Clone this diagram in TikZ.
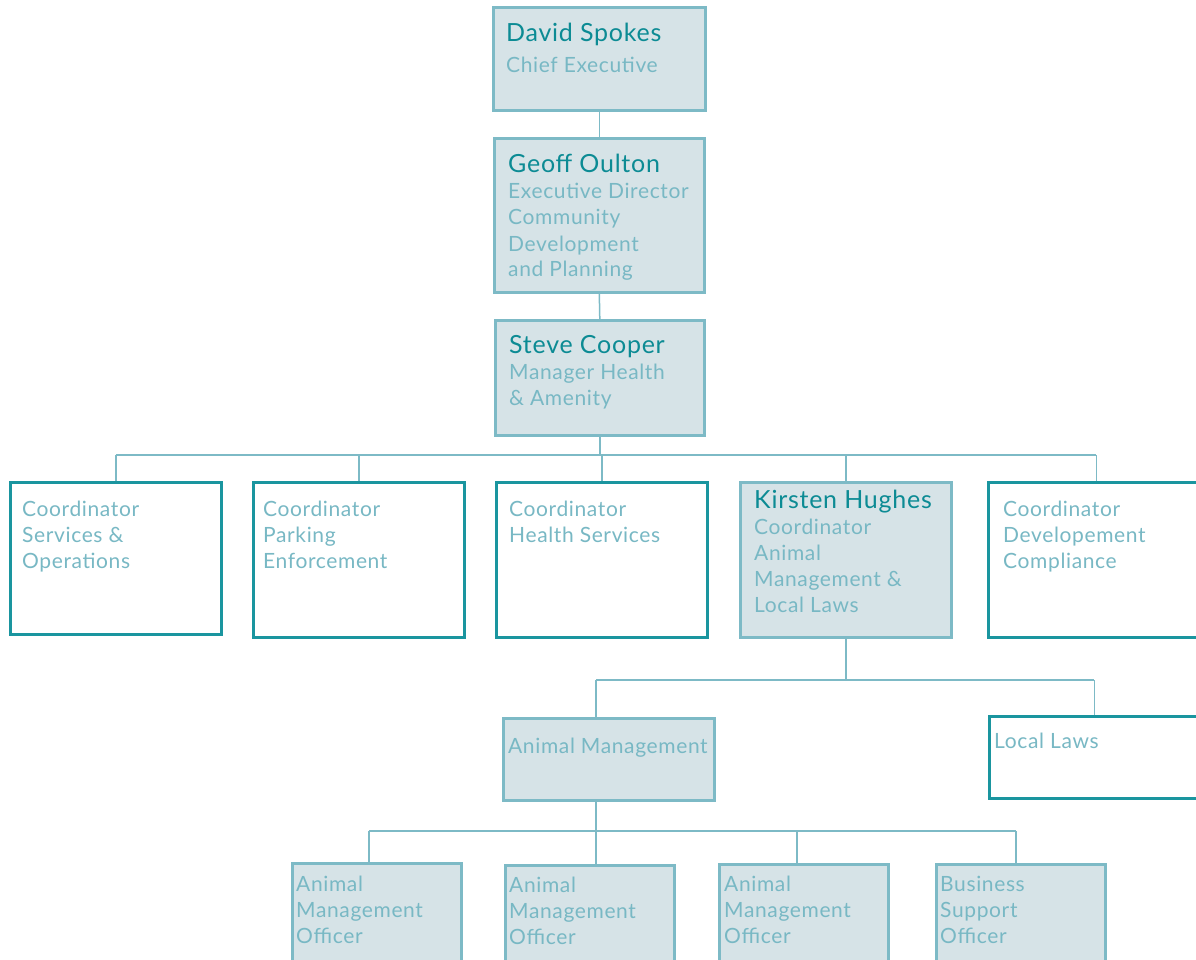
\documentclass[tikz,border=0pt]{standalone}
\usepackage{fontspec}
\setmainfont[LetterSpace=3]{Lato}
\definecolor{dborder}{HTML}{1A959F}
\definecolor{lborder}{HTML}{7DBAC6}
\definecolor{lfill}{HTML}{D6E3E7}
\definecolor{namec}{HTML}{0C8B94}
\definecolor{subc}{HTML}{78B8C4}
\definecolor{connc}{HTML}{7DBAC6}
\newcommand\nm[1]{{\fontsize{25}{28}\selectfont\color{namec}#1}}
\newcommand\lines[1]{\begin{tabular}[t]{@{}l@{}}#1\end{tabular}}
\begin{document}
\begin{tikzpicture}[x=1pt,y=-1pt,
  lbox/.style={draw=lborder, fill=lfill, line width=2.6pt, inner sep=0pt, anchor=north west},
  dbox/.style={draw=dborder, fill=white, line width=2.6pt, inner sep=0pt, anchor=north west},
  conn/.style={draw=connc, line width=1.5pt},
  txt/.style={inner sep=0pt, anchor=base west, text=subc, font=\fontsize{21}{26}\selectfont}]
\useasboundingbox (0,0) rectangle (1196,960);
\clip (0,0) rectangle (1196,960);
% boxes
\node[lbox, minimum width=212pt, minimum height=103pt] (ds) at (492,6) {};
\node[lbox, minimum width=210pt, minimum height=154pt] (go) at (493,137) {};
\node[lbox, minimum width=209pt, minimum height=115pt] (sc) at (494,319) {};
\node[dbox, minimum width=211pt, minimum height=152pt] (c1) at (9,481) {};
\node[dbox, minimum width=211pt, minimum height=155pt] (c2) at (252,481) {};
\node[dbox, minimum width=211pt, minimum height=155pt] (c3) at (495,481) {};
\node[lbox, minimum width=211pt, minimum height=155pt] (kh) at (739,481) {};
\node[dbox, minimum width=216pt, minimum height=155pt] (c5) at (987,481) {};
\node[lbox, minimum width=211pt, minimum height=82pt] (am) at (502,717) {};
\node[dbox, minimum width=210pt, minimum height=82pt] (ll) at (988,715) {};
\node[lbox, minimum width=169pt, minimum height=120pt] (o1) at (291,862) {};
\node[lbox, minimum width=169pt, minimum height=120pt] (o2) at (504,864) {};
\node[lbox, minimum width=169pt, minimum height=120pt] (o3) at (718,863) {};
\node[lbox, minimum width=169pt, minimum height=120pt] (bs) at (935,863) {};
% texts
\node[txt] (dst) at (506,42) {\lines{\nm{David Spokes}\\[5pt] Chief Executive}};
\node[txt] (got) at (508,173) {\lines{\nm{Geoff Oulton}\\ Executive Director\\ Community\\ Development\\ and Planning}};
\node[txt] (sct) at (509,353) {\lines{\nm{Steve Cooper}\\ Manager Health\\ \& Amenity}};
\node[txt] (c1t) at (22,516) {\lines{Coordinator\\ Services \&\\ Operations}};
\node[txt] (c2t) at (263,516) {\lines{Coordinator\\ Parking\\ Enforcement}};
\node[txt] (c3t) at (509,516) {\lines{Coordinator\\ Health Services}};
\node[txt] (kht) at (754,508) {\lines{\nm{Kirsten Hughes}\\ Coordinator\\ Animal\\ Management \&\\ Local Laws}};
\node[txt] (c5t) at (1003,516) {\lines{Coordinator\\ Developement\\ Compliance}};
\node[txt] (amt) at (508,753) {Animal Management};
\node[txt] (llt) at (994,748) {Local Laws};
\node[txt] (o1t) at (296,891) {\lines{Animal\\ Management\\ Officer}};
\node[txt] (o2t) at (509,892) {\lines{Animal\\ Management\\ Officer}};
\node[txt] (o3t) at (724,891) {\lines{Animal\\ Management\\ Officer}};
\node[txt] (bst) at (940,891) {\lines{Business\\ Support\\ Officer}};
% bus coordinates
\coordinate (b1) at (598,455);
\coordinate (b2) at (842,680);
\coordinate (b3) at (596,831);
\coordinate (amin) at ([xshift=94pt]am.north west);
\coordinate (amout) at ([xshift=94pt]am.south west);
\coordinate (o1in) at ([xshift=78pt]o1.north west);
\coordinate (o2in) at ([xshift=92pt]o2.north west);
\coordinate (o3in) at ([xshift=79pt]o3.north west);
\coordinate (bsin) at ([xshift=81pt]bs.north west);
% connectors
\draw[conn] (ds.south) -- (go.north);
\draw[conn] (go.south) -- (sc.north);
\draw[conn] (sc.south) -- (sc.south |- b1);
\draw[conn] (c1.north |- b1) -- (c5.north |- b1);
\foreach \n in {c1,c2,c3,kh,c5} \draw[conn] (\n.north |- b1) -- (\n.north);
\draw[conn] (kh.south) -- (kh.south |- b2);
\draw[conn] (amin |- b2) -- (ll.north |- b2);
\draw[conn] (amin |- b2) -- (amin);
\draw[conn] (ll.north |- b2) -- (ll.north);
\draw[conn] (amout) -- (amout |- b3);
\draw[conn] (o1in |- b3) -- (bsin |- b3);
\foreach \n in {o1in,o2in,o3in,bsin} \draw[conn] (\n |- b3) -- (\n);
\end{tikzpicture}
\end{document}
